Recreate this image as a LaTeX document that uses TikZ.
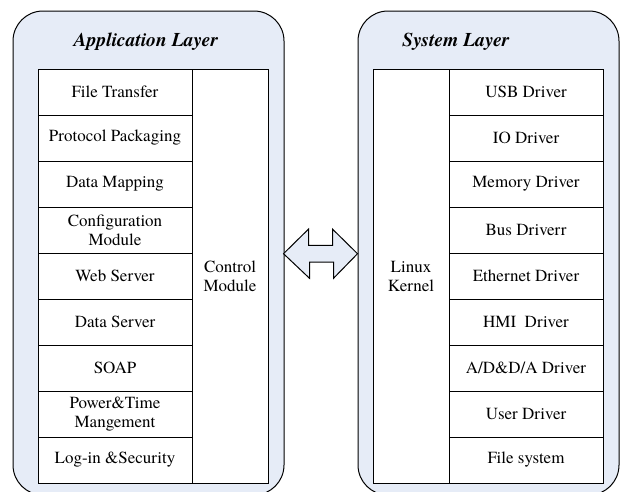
\documentclass[tikz,border=0pt]{standalone}
\usepackage{fontspec}
\setmainfont{TeX Gyre Termes}
\definecolor{panelblue}{RGB}{230,236,247}
\begin{document}
\begin{tikzpicture}[x=1pt,y=-1pt,
  panel/.style={draw=black, line width=1pt, fill=panelblue, rounded corners=30pt, inner sep=0pt, outer sep=0pt, anchor=north west},
  rowbox/.style={draw=black, line width=0.9pt, fill=white, minimum width=154pt, minimum height=46pt, inner sep=0pt, outer sep=0pt, align=center, font=\fontsize{17}{19}\selectfont},
  tallbox/.style={draw=black, line width=0.9pt, fill=white, minimum width=76pt, minimum height=414pt, inner sep=0pt, outer sep=0pt, align=center, font=\fontsize{17}{19}\selectfont},
  titletext/.style={font=\fontsize{19.5}{22}\selectfont\bfseries\itshape, inner sep=0pt},
  dblarrow/.style={draw=black, line width=1pt, fill=panelblue, line join=miter}
]
\useasboundingbox (0,0) rectangle (620,491);
\clip (0,0) rectangle (620,491);
\fill[white] (0,0) rectangle (620,491);
% panels
\node[panel, minimum width=271pt, minimum height=484pt] (app) at (13,11) {};
\node[panel, minimum width=261pt, minimum height=484pt] (sys) at (358,11) {};
\node[titletext] (apptitle) at (146,42) {Application Layer};
\node[titletext] (systitle) at (456,42) {System Layer};
% application rows
\node[rowbox] (a1) at (115,92) {File Transfer};
\node[rowbox] (a2) at (115,138) {Protocol Packaging};
\node[rowbox] (a3) at (115,184) {Data Mapping};
\node[rowbox] (a4) at (115,230) {Configuration\\Module};
\node[rowbox] (a5) at (115,276) {Web Server};
\node[rowbox] (a6) at (115,322) {Data Server};
\node[rowbox] (a7) at (115,368) {SOAP};
\node[rowbox] (a8) at (115,414) {Power\&Time\\Mangement};
\node[rowbox] (a9) at (115,460) {Log-in \&Security};
\node[tallbox] (ctrl) at (230,276) {Control\\Module};
% system rows
\node[tallbox] (kernel) at (411,276) {Linux\\Kernel};
\node[rowbox] (s1) at (526,92) {USB Driver};
\node[rowbox] (s2) at (526,138) {IO Driver};
\node[rowbox] (s3) at (526,184) {Memory Driver};
\node[rowbox] (s4) at (526,230) {Bus Driverr};
\node[rowbox] (s5) at (526,276) {Ethernet Driver};
\node[rowbox] (s6) at (526,322) {HMI\ \ Driver};
\node[rowbox] (s7) at (526,368) {A/D\&D/A Driver};
\node[rowbox] (s8) at (526,414) {User Driver};
\node[rowbox] (s9) at (526,460) {File system};
% double arrow between panels
\coordinate (ltip) at (283.5,253.7);
\coordinate (rtip) at (357.5,253.7);
\draw[dblarrow] (ltip) -- ++(25,-24.6) -- ++(0,16.3) -- ++(24,0) -- ++(0,-16.3)
  -- (rtip) -- ++(-24,24.6) -- ++(0,-16.3) -- ++(-24,0) -- ++(0,16.3) -- cycle;
\end{tikzpicture}
\end{document}
